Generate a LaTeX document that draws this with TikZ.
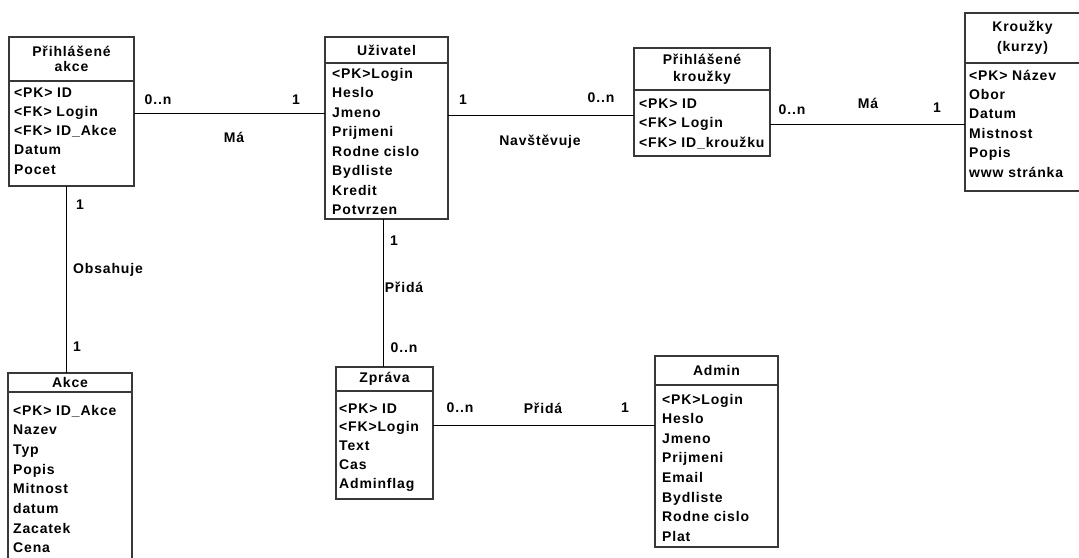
\documentclass[tikz,border=0pt]{standalone}
\usepackage{fontspec}
\setmainfont{Liberation Sans}[LetterSpace=6]
\definecolor{boxgray}{HTML}{383838}

\tikzset{
    head/.style={draw=boxgray, line width=1.3pt, anchor=north west, inner sep=0pt, outer sep=0pt,
                 align=center, font=\bfseries\fontsize{14}{17}\selectfont},
    body/.style={draw=boxgray, line width=1.3pt, anchor=north west, inner sep=0pt, outer sep=0pt},
    attr/.style={anchor=base west, inner sep=0pt, font=\bfseries\fontsize{14}{17}\selectfont},
    lbl/.style={inner sep=0pt, font=\bfseries\fontsize{14}{17}\selectfont},
    rel/.style={line width=0.9pt}
}

\begin{document}
\begin{tikzpicture}[x=1pt,y=-1pt]

\clip (0,0) rectangle (1079,557);
\fill[white] (0,0) rectangle (1079,557);

% entities
\node[head, minimum width=125pt, minimum height=44pt] (pakceH) at (9,37) {Přihlášené\\[-2pt]akce};
\node[body, minimum width=125pt, minimum height=105pt] (pakceB) at (pakceH.south west) {};
\foreach \t [count=\i] in {<PK> ID, <FK> Login, <FK> ID\_Akce, Datum, Pocet}
    \node[attr] (pakce-\i) at (14, {97+19.3*(\i-1)}) {\t};

\node[head, minimum width=123pt, minimum height=26pt] (uzivH) at (325,37) {Uživatel};
\node[body, minimum width=123pt, minimum height=156pt] (uzivB) at (uzivH.south west) {};
\foreach \t [count=\i] in {<PK>Login, Heslo, Jmeno, Prijmeni, Rodne cislo, Bydliste, Kredit, Potvrzen}
    \node[attr] (uziv-\i) at (332, {78+19.5*(\i-1)}) {\t};

\node[head, minimum width=136pt, minimum height=42pt] (pkrouzH) at (634,48) {Přihlášené\\kroužky};
\node[body, minimum width=136pt, minimum height=66pt] (pkrouzB) at (pkrouzH.south west) {};
\foreach \t [count=\i] in {<PK> ID, <FK> Login, <FK> ID\_kroužku}
    \node[attr] (pkrouz-\i) at (639, {108+19.5*(\i-1)}) {\t};

\node[head, minimum width=115pt, minimum height=50pt] (krouzH) at (965,13) {Kroužky\\[3pt](kurzy)};
\node[body, minimum width=115pt, minimum height=128pt] (krouzB) at (krouzH.south west) {};
\foreach \t [count=\i] in {<PK> Název, Obor, Datum, Mistnost, Popis, www stránka}
    \node[attr] (krouz-\i) at (969, {80+19.4*(\i-1)}) {\t};

\node[head, minimum width=124pt, minimum height=19pt] (akceH) at (8,373) {Akce};
\node[body, minimum width=124pt, minimum height=175pt] (akceB) at (akceH.south west) {};
\foreach \t [count=\i] in {<PK> ID\_Akce, Nazev, Typ, Popis, Mitnost, datum, Zacatek, Cena}
    \node[attr] (akce-\i) at (13, {415+19.7*(\i-1)}) {\t};

\node[head, minimum width=97pt, minimum height=24pt] (zpravaH) at (336,367) {Zpráva};
\node[body, minimum width=97pt, minimum height=108pt] (zpravaB) at (zpravaH.south west) {};
\foreach \t [count=\i] in {<PK> ID, <FK>Login, Text, Cas, Adminflag}
    \node[attr] (zprava-\i) at (339, {413+18.8*(\i-1)}) {\t};

\node[head, minimum width=123pt, minimum height=29pt] (adminH) at (655,356) {Admin};
\node[body, minimum width=123pt, minimum height=162pt] (adminB) at (adminH.south west) {};
\foreach \t [count=\i] in {<PK>Login, Heslo, Jmeno, Prijmeni, Email, Bydliste, Rodne cislo, Plat}
    \node[attr] (admin-\i) at (662, {404+19.6*(\i-1)}) {\t};

% relations
\draw[rel] (pakceB.east |- 0,113) -- (uzivB.west |- 0,113);
\draw[rel] (uzivB.east |- 0,115) -- (pkrouzB.west |- 0,115);
\draw[rel] (pkrouzB.east |- 0,124) -- (krouzB.west |- 0,124);
\draw[rel] (pakceB.south -| 66,0) -- (akceH.north -| 66,0);
\draw[rel] (uzivB.south -| 383,0) -- (zpravaH.north -| 383,0);
\draw[rel] (zpravaB.east |- 0,425) -- (adminB.west |- 0,425);

% labels
\node[lbl] (m1a) at (158,100) {0..n};
\node[lbl] (m1b) at (296,100) {1};
\node[lbl] (m1)  at (234,137) {Má};

\node[lbl] (n1a) at (463,100) {1};
\node[lbl] (n1b) at (601,98) {0..n};
\node[lbl] (n1)  at (540,142) {Navštěvuje};

\node[lbl] (m2a) at (792,110) {0..n};
\node[lbl] (m2)  at (868,103) {Má};
\node[lbl] (m2b) at (937,108) {1};

\node[lbl] (o1a) at (80,205) {1};
\node[lbl] (o1)  at (108,270) {Obsahuje};
\node[lbl] (o1b) at (77,347) {1};

\node[lbl] (p1a) at (394,241) {1};
\node[lbl] (p1)  at (404,287) {Přidá};
\node[lbl] (p1b) at (404,348) {0..n};

\node[lbl] (p2a) at (460,408) {0..n};
\node[lbl] (p2)  at (543,408) {Přidá};
\node[lbl] (p2b) at (625,408) {1};

\end{tikzpicture}
\end{document}
